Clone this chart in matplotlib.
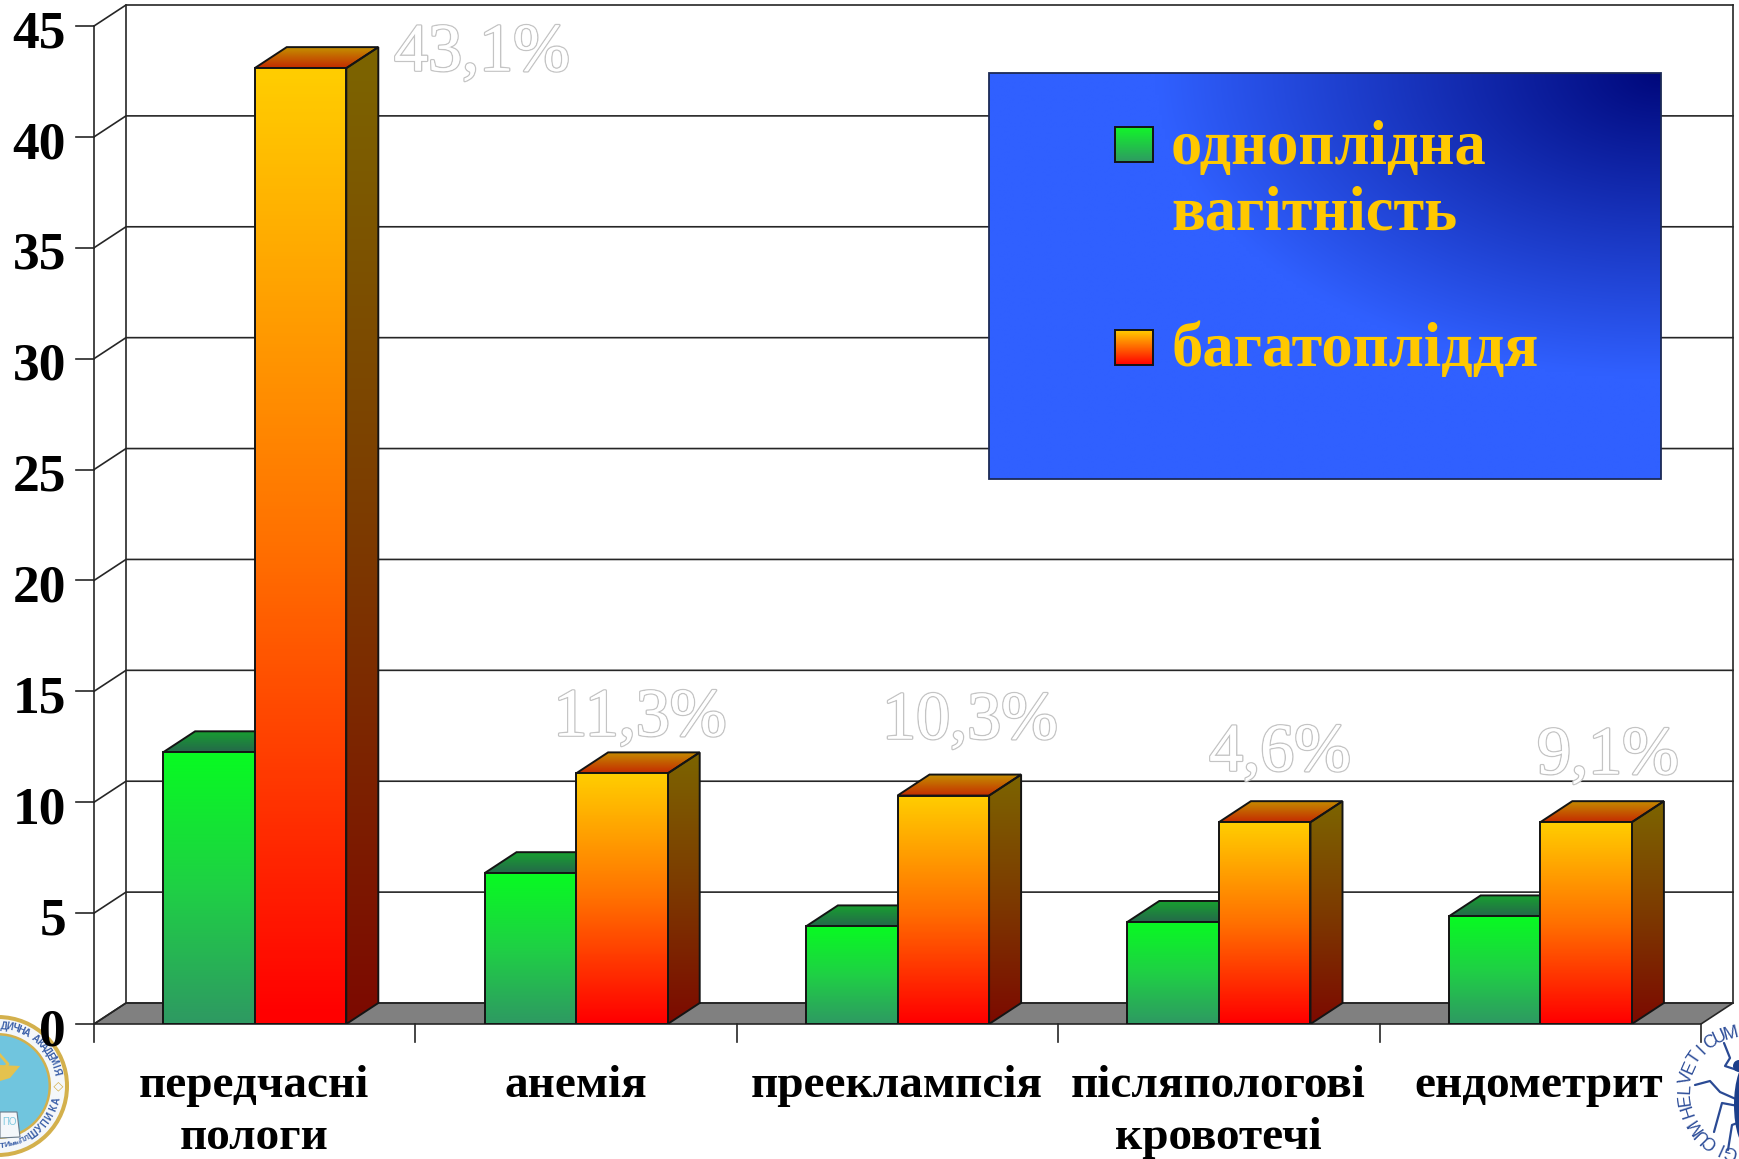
#!/usr/bin/env python
import numpy as np
import matplotlib
matplotlib.use('Agg')
import matplotlib.pyplot as plt
from matplotlib.patches import Circle, Ellipse, Polygon, Rectangle
from matplotlib.colors import LinearSegmentedColormap, to_rgb
import matplotlib.patheffects as pe

W, H = 1739, 1159

categories = ['передчасні\nпологи', 'анемія', 'прееклампсія', 'післяпологові\nкровотечі', 'ендометрит']
single_preg = [12.25, 6.8, 4.4, 4.6, 4.85]
multi_preg = [43.1, 11.3, 10.3, 9.1, 9.1]
value_labels = ['43,1%', '11,3%', '10,3%', '4,6%', '9,1%']
y_ticks = [0, 5, 10, 15, 20, 25, 30, 35, 40, 45]

SERIF = 'Liberation Serif'
LINE = '#262626'

# plot area is the front plane of the 3D box, in figure pixels
LEFT, RIGHT, BASE, TOP = 94, 1701, 1024, 26
DEPTH_X, DEPTH_Y = 32, 21

fig = plt.figure(figsize=(W / 100, H / 100), dpi=100, facecolor='white')


def pixel_axes(zorder):
    a = fig.add_axes([0, 0, 1, 1], zorder=zorder)
    a.set_xlim(0, W)
    a.set_ylim(H, 0)
    a.axis('off')
    a.set_autoscale_on(False)
    return a


# seals sit under the chart, the legend box and texts above it
seals = pixel_axes(1)
ax = fig.add_axes([LEFT / W, 1 - BASE / H, (RIGHT - LEFT) / W, (BASE - TOP) / H], zorder=2)
ax.set_xlim(0, 5)
ax.set_ylim(0, 45)
ax.axis('off')
ax.set_autoscale_on(False)
deco = pixel_axes(3)

dx = DEPTH_X * 5 / (RIGHT - LEFT)
dy = DEPTH_Y * 45 / (BASE - TOP)


def ramp(a, b, c=None):
    cols = [a, c, b] if c else [a, b]
    return LinearSegmentedColormap.from_list('r', cols)


def grad_face(axis, verts, cmap, zorder, edge='#141414'):
    # vertical gradient over the bounding box, clipped to the face outline
    xs = [v[0] for v in verts]
    ys = [v[1] for v in verts]
    g = np.linspace(1, 0, 64).reshape(-1, 1)
    im = axis.imshow(g, extent=(min(xs), max(xs), min(ys), max(ys)), origin='upper',
                     cmap=cmap, vmin=0, vmax=1, aspect='auto', zorder=zorder, interpolation='bilinear')
    poly = Polygon(verts, closed=True, fc='none', ec=edge, lw=1.4, zorder=zorder + 0.01, joinstyle='miter')
    axis.add_patch(poly)
    im.set_clip_path(poly)


green_front = ramp('#2e9a62', '#08fa22', c='#1fd045')
green_top = ramp('#24694a', '#18a030')
green_side = ramp('#0a5a20', '#0a7a1a')
orange_front = ramp('#ff0000', '#ffcc00', c='#ff7000')
orange_top = ramp('#c42c00', '#c49000')
orange_side = ramp('#7c0a00', '#7c6400', c='#7c3a00')

# back walls and floor
ax.add_patch(Polygon([(0, 0), (dx, dy), (5 + dx, dy), (5, 0)], closed=True, fc='#808080', ec=LINE, lw=1.2, zorder=1, clip_on=False))
ax.plot([dx, dx], [dy, 45 + dy], color=LINE, lw=1.2, zorder=1, clip_on=False)
ax.plot([0, 0], [0, 45], color=LINE, lw=1.2, zorder=1, clip_on=False)
ax.plot([5 + dx, 5 + dx], [dy, 45 + dy], color=LINE, lw=1.2, zorder=1, clip_on=False)
tick_dx = 18 * 5 / (RIGHT - LEFT)
for t in y_ticks:
    ax.plot([0, dx, 5 + dx], [t, t + dy, t + dy], color=LINE, lw=1.2, zorder=1, clip_on=False)
    ax.plot([-tick_dx, 0], [t, t], color=LINE, lw=1.2, zorder=1, clip_on=False)
    ax.text(-28 * 5 / (RIGHT - LEFT), t - 0.37, str(t), ha='right', va='center', family=SERIF, weight='bold',
            fontsize=38.5, color='black', clip_on=False, zorder=8)
for i in range(6):
    ax.plot([i, i], [0, -18 * 45 / (BASE - TOP)], color=LINE, lw=1.2, clip_on=False, zorder=1)

# bars, left to right: green first, then orange hides its side
BAR_W = 0.285
for i, (a, b) in enumerate(zip(single_preg, multi_preg)):
    x0 = i + 0.5 - BAR_W
    x1 = i + 0.5
    x2 = i + 0.5 + BAR_W
    z = 2 + i
    grad_face(ax, [(x1, 0), (x1 + dx, dy), (x1 + dx, a + dy), (x1, a)], green_side, z)
    grad_face(ax, [(x0, a), (x0 + dx, a + dy), (x1 + dx, a + dy), (x1, a)], green_top, z)
    grad_face(ax, [(x0, 0), (x0, a), (x1, a), (x1, 0)], green_front, z + 0.1)
    grad_face(ax, [(x2, 0), (x2 + dx, dy), (x2 + dx, b + dy), (x2, b)], orange_side, z + 0.2)
    grad_face(ax, [(x1, b), (x1 + dx, b + dy), (x2 + dx, b + dy), (x2, b)], orange_top, z + 0.2)
    grad_face(ax, [(x1, 0), (x1, b), (x2, b), (x2, 0)], orange_front, z + 0.3)

# outlined percentage labels
label_px = [(482, 54), (640, 719), (970, 722), (1280, 754), (1608, 757)]
for s, (px, py) in zip(value_labels, label_px):
    deco.text(px, py, s, ha='center', va='center', family=SERIF, fontsize=49, color='white', zorder=6,
              path_effects=[pe.withStroke(linewidth=2.0, foreground='#c4c4c4'), pe.Normal()])

# category names
cat_x = [254, 576, 897, 1218, 1539]
for s, px in zip(categories, cat_x):
    deco.text(px, 1065, s, ha='center', va='top', family=SERIF, weight='bold', fontsize=34, color='black',
              linespacing=1.3, zorder=6)

# legend box: blue with a dark navy corner top right
bx0, bx1, by0, by1 = 989, 1661, 73, 479
yy, xx = np.mgrid[0:1:120j, 0:1:200j]
r = np.clip(np.sqrt(((1 - xx) / 0.75) ** 2 + (yy / 0.75) ** 2), 0, 1)
c0 = np.array(to_rgb('#00087c'))
c1 = np.array(to_rgb('#3060ff'))
img = c0[None, None, :] * (1 - r[..., None]) + c1[None, None, :] * r[..., None]
deco.imshow(img, extent=(bx0, bx1, by1, by0), aspect='auto', zorder=4, interpolation='bilinear')
deco.add_patch(Rectangle((bx0, by0), bx1 - bx0, by1 - by0, fc='none', ec='#1c2a55', lw=1.3, zorder=4.1))

# y axis of the overlay runs downwards, so these ramps start at the top colour
grad_face(deco, [(1115, 127), (1153, 127), (1153, 162), (1115, 162)], ramp('#12f52a', '#2e9a62'), 5)
grad_face(deco, [(1115, 330), (1153, 330), (1153, 365), (1115, 365)], ramp('#ffcc00', '#ff0000'), 5)
GOLD = '#ffc800'
for s, py in [('одноплідна', 164), ('вагітність', 229), ('багатопліддя', 366)]:
    deco.text(1171, py, s, ha='left', va='baseline', family=SERIF, weight='bold', fontsize=45, color=GOLD, zorder=6)


def arc_text(s, cx, cy, rad, a0, a1, size, color, flip=False, weight='normal'):
    # one rotated text per letter along a circle
    angles = np.linspace(a0, a1, len(s)) if len(s) > 1 else [a0]
    for ch, th in zip(s, angles):
        t = np.radians(th)
        rot = th + 90 if flip else th - 90
        seals.text(cx + rad * np.cos(t), cy - rad * np.sin(t), ch, rotation=rot, rotation_mode='anchor', ha='center',
                   va='center', fontsize=size, color=color, family=['Liberation Sans', 'DejaVu Sans'],
                   weight=weight, zorder=3)


# left seal
cx, cy = -2, 1086
seals.add_patch(Circle((cx, cy), 71, fc='#d3b04c', ec='none', zorder=2))
seals.add_patch(Circle((cx, cy), 67, fc='#f4f7fa', ec='none', zorder=2.1))
seals.add_patch(Circle((cx, cy), 53, fc='#d3b04c', ec='none', zorder=2.2))
seals.add_patch(Circle((cx, cy), 50.5, fc='#70c5de', ec='none', zorder=2.3))
SEAL_TEXT = '#3a5fa8'
arc_text('ДИЧНА АКАДЕМІЯ', cx, cy, 60, 84, 14, 7, SEAL_TEXT, weight='bold')
arc_text('ШУПИКА', cx, cy, 60, -54, -14, 7, SEAL_TEXT, flip=True, weight='bold')
arc_text('П.Л.', cx, cy, 60, -66, -58, 5, SEAL_TEXT, flip=True, weight='bold')
arc_text('імені', cx, cy, 60, -78, -69, 4.5, SEAL_TEXT, flip=True, weight='bold')
arc_text('ТИ', cx, cy, 60, -86, -81, 6, SEAL_TEXT, flip=True, weight='bold')
arc_text('◇', cx, cy, 60, 0, 0, 9, '#d3b04c')
seals.add_patch(Polygon([(0, 1065), (20, 1066), (10, 1078), (0, 1081)], fc='#e4c24e', ec='none', zorder=2.4))
seals.plot([0, 8, 0], [1055, 1064, 1072], color='#e4c24e', lw=2, zorder=2.4)
seals.add_patch(Polygon([(0, 1112), (17, 1112), (20, 1137), (0, 1138)], fc='#f4f7fa', ec='#6a7a8a', lw=0.8, zorder=2.4))
seals.text(2, 1122, 'ПО', fontsize=7, color='#80c8e0', family='Liberation Sans', va='center', zorder=2.5)

# right seal with the beetle
cx, cy = 1745, 1092
seals.add_patch(Circle((cx, cy), 70, fc='white', ec='none', zorder=2))
BLUE = '#2f4f9a'
arc_text('HELVETICUM', cx, cy, 60, 198, 104, 13, BLUE)
arc_text('GICUM', cx, cy, 60, 256, 214, 13, BLUE)
seals.add_patch(Ellipse((1749, 1105), 30, 88, fc='#1c3f8a', ec='none', zorder=2.5))
seals.add_patch(Circle((1739, 1066), 6, fc='#1c3f8a', ec='none', zorder=2.5))
for xs, ys in [([1724, 1730, 1725, 1737], [1043, 1058, 1066, 1070]),
               ([1695, 1710, 1720, 1738], [1085, 1081, 1092, 1100]),
               ([1714, 1722, 1738], [1132, 1103, 1106]),
               ([1728, 1732, 1740], [1150, 1125, 1122])]:
    seals.plot(xs, ys, color='#2a4a94', lw=1.6, zorder=2.4, solid_capstyle='round')

fig.savefig('out.png', dpi=100, facecolor='white')
